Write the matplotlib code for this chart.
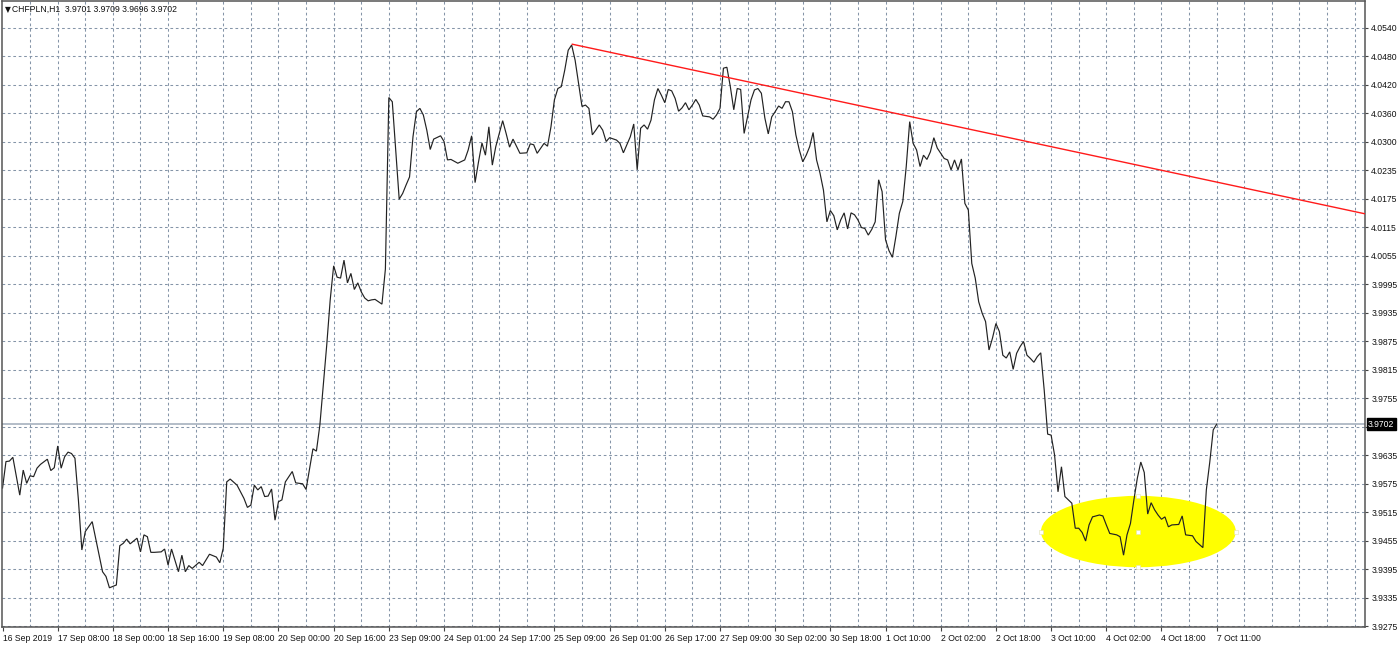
import matplotlib
matplotlib.use("Agg")
import matplotlib.pyplot as plt
import matplotlib.transforms as mtransforms
from matplotlib.patches import Ellipse
import numpy as np

# ---------------- data ----------------
symbol_header = "CHFPLN,H1  3.9701 3.9709 3.9696 3.9702"

bar_index = [
    0, 1, 2, 3, 5, 6, 7, 8, 9, 10, 11, 13, 14, 15, 16, 17, 18, 19, 20, 21,
    22, 23, 24, 26, 29, 30, 31, 33, 34, 35, 36, 37, 39, 40, 41, 42, 43, 44, 46, 47,
    48, 49, 51, 52, 53, 54, 55, 57, 58, 60, 62, 63, 64, 65, 66, 68, 70, 71, 72, 73,
    74, 75, 76, 77, 78, 79, 80, 81, 82, 84, 85, 87, 88, 90, 91, 92, 93, 94, 95, 96,
    97, 98, 99, 100, 101, 102, 103, 104, 105, 106, 107, 108, 109, 110, 111, 112, 113, 115, 116, 117,
    118, 119, 120, 121, 122, 123, 124, 125, 127, 128, 129, 130, 132, 134, 135, 136, 137, 138, 139, 140,
    141, 142, 143, 145, 146, 147, 148, 150, 152, 153, 154, 155, 157, 158, 159, 160, 161, 162, 163, 164,
    165, 166, 167, 168, 169, 170, 171, 172, 173, 174, 175, 176, 178, 179, 180, 182, 183, 184, 185, 186,
    187, 188, 189, 190, 191, 192, 193, 194, 195, 196, 197, 198, 199, 200, 201, 202, 203, 205, 206, 207,
    208, 209, 210, 211, 212, 213, 214, 215, 216, 217, 218, 219, 220, 221, 222, 223, 224, 225, 226, 227,
    228, 229, 230, 231, 232, 233, 234, 235, 236, 237, 238, 239, 240, 241, 242, 243, 244, 245, 246, 247,
    248, 249, 250, 251, 252, 253, 254, 255, 256, 257, 258, 259, 260, 261, 262, 263, 264, 265, 266, 267,
    268, 269, 270, 271, 272, 273, 274, 275, 276, 277, 278, 279, 280, 281, 282, 283, 284, 285, 286, 287,
    288, 289, 290, 291, 292, 293, 294, 295, 296, 297, 298, 299, 300, 301, 302, 303, 304, 305, 306, 307,
    308, 309, 310, 311, 312, 313, 314, 315, 316, 318, 319, 320, 321, 323, 324, 325, 326, 327, 328, 329,
    330, 331, 332, 333, 334, 335, 336, 337, 338, 339, 341, 342, 343, 345, 346, 348, 349, 350, 351, 352,
]

close_price = [
    3.9567, 3.9623, 3.9624, 3.9632, 3.9552, 3.9605, 3.9577, 3.9593, 3.9591, 3.9609, 3.9617, 3.9628, 3.9604, 3.9610, 3.9656, 3.9609, 3.9633, 3.9643, 3.9640, 3.9630,
    3.9542, 3.9436, 3.9475, 3.9496, 3.9390, 3.9380, 3.9356, 3.9362, 3.9445, 3.9450, 3.9459, 3.9449, 3.9461, 3.9432, 3.9468, 3.9464, 3.9431, 3.9431, 3.9432, 3.9438,
    3.9404, 3.9438, 3.9390, 3.9425, 3.9390, 3.9403, 3.9397, 3.9410, 3.9403, 3.9427, 3.9421, 3.9409, 3.9440, 3.9580, 3.9586, 3.9573, 3.9545, 3.9526, 3.9531, 3.9573,
    3.9563, 3.9570, 3.9549, 3.9550, 3.9565, 3.9499, 3.9538, 3.9542, 3.9580, 3.9602, 3.9578, 3.9576, 3.9564, 3.9650, 3.9645, 3.9700, 3.9785, 3.9870, 3.9965, 4.0037,
    4.0013, 4.0011, 4.0049, 4.0001, 4.0021, 3.9987, 4.0001, 3.9982, 3.9969, 3.9963, 3.9965, 3.9966, 3.9961, 3.9956, 4.0030, 4.0393, 4.0384, 4.0178, 4.0190, 4.0208,
    4.0225, 4.0310, 4.0363, 4.0370, 4.0356, 4.0324, 4.0283, 4.0305, 4.0312, 4.0300, 4.0261, 4.0262, 4.0254, 4.0261, 4.0282, 4.0312, 4.0213, 4.0257, 4.0297, 4.0271,
    4.0331, 4.0250, 4.0289, 4.0344, 4.0317, 4.0288, 4.0305, 4.0275, 4.0276, 4.0295, 4.0293, 4.0275, 4.0296, 4.0290, 4.0331, 4.0388, 4.0412, 4.0416, 4.0451, 4.0493,
    4.0504, 4.0472, 4.0423, 4.0374, 4.0377, 4.0370, 4.0314, 4.0324, 4.0335, 4.0324, 4.0300, 4.0308, 4.0303, 4.0296, 4.0276, 4.0310, 4.0337, 4.0240, 4.0328, 4.0335,
    4.0326, 4.0345, 4.0388, 4.0412, 4.0398, 4.0382, 4.0410, 4.0407, 4.0391, 4.0364, 4.0371, 4.0382, 4.0367, 4.0377, 4.0389, 4.0377, 4.0354, 4.0352, 4.0347, 4.0356,
    4.0370, 4.0455, 4.0457, 4.0416, 4.0367, 4.0412, 4.0410, 4.0317, 4.0352, 4.0388, 4.0409, 4.0412, 4.0402, 4.0350, 4.0316, 4.0352, 4.0363, 4.0375, 4.0370, 4.0384,
    4.0384, 4.0363, 4.0314, 4.0282, 4.0257, 4.0271, 4.0289, 4.0319, 4.0261, 4.0233, 4.0197, 4.0130, 4.0154, 4.0143, 4.0113, 4.0134, 4.0149, 4.0115, 4.0149, 4.0145,
    4.0134, 4.0118, 4.0116, 4.0102, 4.0114, 4.0130, 4.0219, 4.0194, 4.0092, 4.0069, 4.0055, 4.0099, 4.0148, 4.0173, 4.0247, 4.0342, 4.0296, 4.0282, 4.0247, 4.0271,
    4.0262, 4.0278, 4.0308, 4.0286, 4.0275, 4.0264, 4.0261, 4.0240, 4.0261, 4.0240, 4.0263, 4.0169, 4.0155, 4.0042, 4.0011, 3.9961, 3.9937, 3.9919, 3.9859, 3.9884,
    3.9915, 3.9898, 3.9848, 3.9842, 3.9855, 3.9818, 3.9852, 3.9866, 3.9877, 3.9848, 3.9841, 3.9833, 3.9845, 3.9853, 3.9774, 3.9681, 3.9679, 3.9637, 3.9559, 3.9612,
    3.9549, 3.9542, 3.9535, 3.9482, 3.9482, 3.9473, 3.9455, 3.9489, 3.9506, 3.9510, 3.9508, 3.9489, 3.9471, 3.9468, 3.9464, 3.9425, 3.9468, 3.9492, 3.9542, 3.9588,
    3.9622, 3.9600, 3.9512, 3.9536, 3.9521, 3.9510, 3.9501, 3.9506, 3.9485, 3.9489, 3.9490, 3.9508, 3.9468, 3.9466, 3.9454, 3.9441, 3.9563, 3.9622, 3.9690, 3.9702,
]

current_price = 3.9702

# trend line (two anchor points: bar index, price)
trend_bars = [165, 395]
trend_prices = [4.0506, 4.0147]

# highlighted zone (ellipse): center bar, center price, width in bars, height in price
zone_center_bar = 329.3
zone_center_price = 3.9475
zone_width_bars = 56.5
zone_height_price = 0.0151

x_tick_bars = [0, 16, 32, 48, 64, 80, 96, 112, 128, 144, 160, 176, 192, 208, 224,
               240, 256, 272, 288, 304, 320, 336, 352]
x_tick_labels = ["16 Sep 2019", "17 Sep 08:00", "18 Sep 00:00", "18 Sep 16:00",
                 "19 Sep 08:00", "20 Sep 00:00", "20 Sep 16:00", "23 Sep 09:00",
                 "24 Sep 01:00", "24 Sep 17:00", "25 Sep 09:00", "26 Sep 01:00",
                 "26 Sep 17:00", "27 Sep 09:00", "30 Sep 02:00", "30 Sep 18:00",
                 "1 Oct 10:00", "2 Oct 02:00", "2 Oct 18:00", "3 Oct 10:00",
                 "4 Oct 02:00", "4 Oct 18:00", "7 Oct 11:00"]

y_tick_labels = ["4.0540", "4.0480", "4.0420", "4.0360", "4.0300", "4.0235",
                 "4.0175", "4.0115", "4.0055", "3.9995", "3.9935", "3.9875",
                 "3.9815", "3.9755", "3.9695", "3.9635", "3.9575", "3.9515",
                 "3.9455", "3.9395", "3.9335", "3.9275"]
y_top_label_value = 4.0540
y_bottom_label_value = 3.9275

# ---------------- figure ----------------
W, H = 1400, 647
fig = plt.figure(figsize=(W / 100, H / 100), dpi=100)
fig.patch.set_facecolor("white")

ax_left, ax_right, ax_top, ax_bottom = 2, 1365, 1, 627
ax = fig.add_axes([ax_left / W, 1 - ax_bottom / H,
                   (ax_right - ax_left) / W, (ax_bottom - ax_top) / H])
ax.set_facecolor("white")

FONT = "Liberation Sans"
FS = 6.2

ax.set_xlim(-0.15, 395.0)
ax.set_ylim(3.92731, 4.05971)

# grid
y_ticks = np.linspace(y_top_label_value, y_bottom_label_value, len(y_tick_labels))
grid_color = "#8595a8"
ax.set_axisbelow(True)
for xv in range(8, 396, 8):
    ax.axvline(xv, color=grid_color, lw=0.75, ls=(0, (2.6, 2.6)), zorder=0.5)
for yv in y_ticks:
    ax.axhline(yv, color=grid_color, lw=0.75, ls=(0, (2.6, 2.6)), zorder=0.5)

# highlight ellipse
ell = Ellipse((zone_center_bar, zone_center_price), zone_width_bars, zone_height_price,
              facecolor="#ffff00", edgecolor="none", zorder=1)
ax.add_patch(ell)
hx = [zone_center_bar - zone_width_bars / 2, zone_center_bar + zone_width_bars / 2,
      zone_center_bar, zone_center_bar, zone_center_bar]
hy = [zone_center_price, zone_center_price,
      zone_center_price + zone_height_price / 2, zone_center_price - zone_height_price / 2,
      zone_center_price]
ax.plot(hx, hy, ls="none", marker="s", ms=2.2, mfc="white", mec="#e0e0b0", mew=0.4, zorder=1.5)

# current price line
ax.axhline(current_price, color="#aeb8c4", lw=1.3, zorder=1.2)

# trend line
ax.plot(trend_bars, trend_prices, color="#ff1a1a", lw=1.0, zorder=3, solid_capstyle="butt")

# price line
ax.plot(bar_index, close_price, color="#222222", lw=0.85, zorder=2.5, solid_joinstyle="miter")

# spines
for s in ax.spines.values():
    s.set_color("#555555")
    s.set_linewidth(1.1)

# axes ticks
ax.yaxis.tick_right()
ax.set_yticks(y_ticks)
ax.set_yticklabels(y_tick_labels, fontfamily=FONT, fontsize=FS)
ax.set_xticks(x_tick_bars)
ax.set_xticklabels(x_tick_labels, fontfamily=FONT, fontsize=FS)
ax.tick_params(axis="y", which="major", direction="out", length=2.5, width=0.8,
               color="#444444", pad=2, labelcolor="#111111")
ax.tick_params(axis="x", which="major", direction="out", length=3, width=0.8,
               color="#444444", pad=2, labelcolor="#111111")
for lbl in ax.get_xticklabels():
    lbl.set_horizontalalignment("left")
# the 3.9695 label sits behind the current-price tag, as in the reference
ax.get_yticklabels()[y_tick_labels.index("3.9695")].set_zorder(1)

# current price tag on the right axis
blend = mtransforms.blended_transform_factory(ax.transAxes, ax.transData)
ax.text(1.0 + 3 / (ax_right - ax_left), current_price, "3.9702", transform=blend,
        ha="left", va="center", fontsize=FS, fontfamily=FONT, color="white", zorder=10,
        bbox=dict(boxstyle="square,pad=0.15", facecolor="black", edgecolor="black"),
        clip_on=False)

# header
fig.text(5 / W, 1 - 9.5 / H, "\u25BC", fontsize=5.5, fontfamily="DejaVu Sans",
         color="#111111", va="center", ha="left")
fig.text(12 / W, 1 - 9.5 / H, symbol_header, fontsize=FS, fontfamily=FONT,
         color="#111111", va="center", ha="left")

fig.savefig("out.png", dpi=100, facecolor="white")
